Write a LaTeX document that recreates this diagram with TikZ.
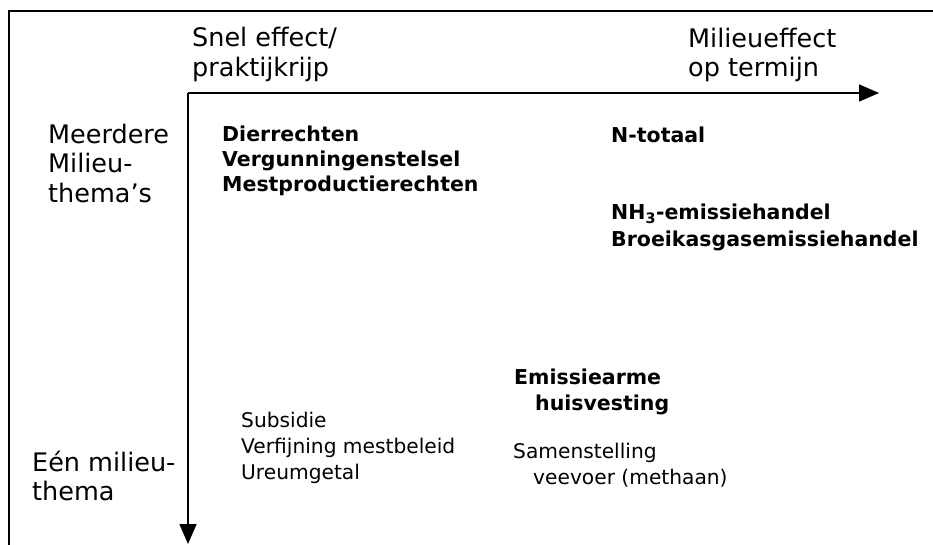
\documentclass[tikz,border=0pt]{standalone}
\usepackage{fontspec}
\setmainfont{DejaVu Sans}
\usetikzlibrary{arrows.meta}
\tikzset{
  big/.style={anchor=base west, inner sep=0pt, font=\fontsize{25.5}{30}\selectfont},
  item/.style={anchor=base west, inner sep=0pt, font=\fontsize{20.2}{25}\selectfont},
  bitem/.style={anchor=base west, inner sep=0pt, font=\fontsize{20.5}{25}\selectfont\bfseries},
  frameline/.style={line width=1.6pt},
  axis/.style={line width=1.6pt, -{Triangle[length=20pt,width=17pt]}}
}
\begin{document}
\begin{tikzpicture}[x=1pt,y=-1pt]
\useasboundingbox (0,0) rectangle (933,545);
% frame (cropped: top and left sides only)
\draw[frameline] (9,545) -- (9,11) -- (933,11);
% axes
\coordinate (o) at (188,93);
\coordinate (xend) at (879,93);
\coordinate (yend) at (188,544);
\draw[axis] (o) -- (xend);
\draw[axis] (o) -- (yend);
% axis labels
\node[big] (snel1) at (192,47) {Snel effect/};
\node[big] (snel2) at (192,77) {praktijkrijp};
\node[big] (mil1) at (688,48) {Milieueffect};
\node[big] (mil2) at (688,77) {op termijn};
\node[big] (meer1) at (48,144) {Meerdere};
\node[big] (meer2) at (48,173) {Milieu-};
\node[big] (meer3) at (48,203) {thema’s};
\node[big] (een1) at (32,471) {Eén milieu-};
\node[big] (een2) at (32,500) {thema};
% bold items
\node[bitem] (dier) at (222,142) {Dierrechten};
\node[bitem] (verg) at (222,167) {Vergunningenstelsel};
\node[bitem] (mest) at (222,192) {Mestproductierechten};
\node[bitem] (ntot) at (611,143) {N-totaal};
\node[bitem] (nh3) at (611,220) {NH\textsubscript{3}-emissiehandel};
\node[bitem] (broe) at (611,246) {Broeikasgasemissiehandel};
\node[bitem] (emis) at (514,384) {Emissiearme};
\node[bitem] (huis) at (535,410) {huisvesting};
% regular items
\node[item] (subs) at (241,427) {Subsidie};
\node[item] (verf) at (241,453) {Verfijning mestbeleid};
\node[item] (ureu) at (241,479) {Ureumgetal};
\node[item] (sam1) at (513,458) {Samenstelling};
\node[item] (sam2) at (533,484) {veevoer (methaan)};
\end{tikzpicture}
\end{document}
